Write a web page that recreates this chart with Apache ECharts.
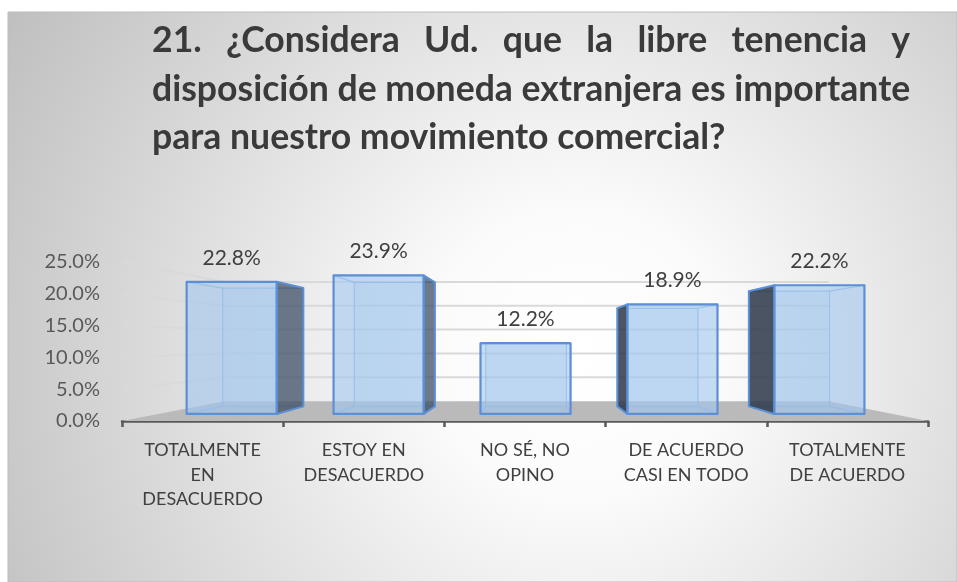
<!DOCTYPE html>
<html>
<head>
<meta charset="utf-8">
<script src="https://cdn.jsdelivr.net/npm/echarts@6/dist/echarts.min.js"></script>
<style>
  html, body { margin: 0; padding: 0; background: #ffffff; }
  #chart { width: 957px; height: 582px; }
</style>
</head>
<body>
<div id="chart"></div>
<script>
// ---- data ----
const categories = ['TOTALMENTE\nEN\nDESACUERDO', 'ESTOY EN\nDESACUERDO', 'NO SÉ, NO\nOPINO', 'DE ACUERDO\nCASI EN TODO', 'TOTALMENTE\nDE ACUERDO'];
const values = [0.228, 0.239, 0.122, 0.189, 0.222];
const gridTicks = [0.05, 0.10, 0.15, 0.20, 0.25];
const titleLine1 = ['21.', '¿Considera', 'Ud.', 'que', 'la', 'libre', 'tenencia', 'y'];
const titleLine2 = 'disposición de moneda extranjera es importante';
const titleLine3 = 'para nuestro movimiento comercial?';

// ---- perspective / style constants ----
const K_FRONT = 0.9115, K_BACK = 0.816, K_WALL = 0.75, BAR_RATIO = 0.613;
const FONT = 'Lato, "Open Sans", sans-serif';

const chart = echarts.init(document.getElementById('chart'));

function vanish(params, api) {
  const cs = params.coordSys;
  return [cs.x + cs.width * 0.5 + 6, api.coord([0, 0.125])[1]];
}
function proj(V, x, y, k) { return [V[0] + k * (x - V[0]), V[1] + k * (y - V[1])]; }

function renderFloor(params, api) {
  const cs = params.coordSys, V = vanish(params, api);
  const y0 = api.coord([0, 0])[1];
  const l = cs.x, r = cs.x + cs.width;
  return { type: 'polygon', shape: { points: [[l, y0], [r, y0], proj(V, r, y0, K_WALL), proj(V, l, y0, K_WALL)] },
           style: { fill: '#bababa' } };
}
function renderGrid(params, api) {
  const cs = params.coordSys, V = vanish(params, api);
  const y = api.coord([0, api.value(1)])[1];
  const l = cs.x, r = cs.x + cs.width;
  return { type: 'polyline', shape: { points: [[l, y], proj(V, l, y, K_WALL), proj(V, r, y, K_WALL)] },
           style: { stroke: '#d9d9d9', lineWidth: 2, fill: null } };
}
function renderBar(params, api) {
  const V = vanish(params, api);
  const i = api.value(0), v = api.value(1);
  const top = api.coord([i, v]), base = api.coord([i, 0]);
  const hw = api.size([1, 0])[0] * BAR_RATIO / 2;
  const L = top[0] - hw, R = top[0] + hw, T = top[1], B = base[1];
  const f = { lt: proj(V, L, T, K_FRONT), rt: proj(V, R, T, K_FRONT), rb: proj(V, R, B, K_FRONT), lb: proj(V, L, B, K_FRONT) };
  const b = { lt: proj(V, L, T, K_BACK), rt: proj(V, R, T, K_BACK), rb: proj(V, R, B, K_BACK), lb: proj(V, L, B, K_BACK) };
  const children = [];
  const inner = { stroke: 'rgba(120,170,225,0.75)', lineWidth: 1.2, fill: null };
  children.push({ type: 'polygon', shape: { points: [b.lt, b.rt, b.rb, b.lb] }, style: { fill: 'rgba(170,205,240,0.25)', stroke: inner.stroke, lineWidth: 1.2 } });
  ['lt', 'rt', 'rb', 'lb'].forEach(c => children.push({ type: 'line', shape: { x1: f[c][0], y1: f[c][1], x2: b[c][0], y2: b[c][1] }, style: inner }));
  if (R < V[0]) {
    children.push({ type: 'polygon', shape: { points: [f.rt, b.rt, b.rb, f.rb] }, style: { fill: 'rgba(45,60,82,0.65)', stroke: '#5b8fd6', lineWidth: 2, lineJoin: 'round' } });
  } else if (L > V[0]) {
    children.push({ type: 'polygon', shape: { points: [f.lt, b.lt, b.lb, f.lb] }, style: { fill: 'rgba(40,50,66,0.82)', stroke: '#5b8fd6', lineWidth: 2, lineJoin: 'round' } });
  }
  if (T > V[1] + 0.5) {
    children.push({ type: 'polygon', shape: { points: [f.lt, f.rt, b.rt, b.lt] }, style: { fill: 'rgba(170,205,240,0.6)', stroke: '#5b8fd6', lineWidth: 2 } });
  }
  children.push({ type: 'polygon', shape: { points: [f.lt, f.rt, f.rb, f.lb] }, style: { fill: 'rgba(160,198,238,0.6)', stroke: '#5b8fd6', lineWidth: 2.2, lineJoin: 'round' } });
  children.push({ type: 'text', style: { text: (v * 100).toFixed(1) + '%', x: (f.lt[0] + f.rt[0]) / 2, y: f.lt[1] - 24,
    align: 'center', verticalAlign: 'middle', fill: '#404040', fontSize: 21, fontFamily: FONT } });
  return { type: 'group', children };
}

// ---- title (justified first line) ----
const ctx = document.createElement('canvas').getContext('2d');
function measure(text, size) { ctx.font = 'bold ' + size + 'px ' + FONT; return ctx.measureText(text).width; }
const TITLE_L = 152, TITLE_R = 910;
let tSize = 26 * (TITLE_R - TITLE_L) / measure(titleLine2, 26);
tSize = Math.round(tSize * 10) / 10;
const titleStyle = { fill: '#3a3a3a', fontSize: tSize, fontWeight: 'bold', fontFamily: FONT, verticalAlign: 'middle' };
const titleEls = [];
const wordW = titleLine1.map(w => measure(w, tSize));
const gap = ((TITLE_R - TITLE_L) - wordW.reduce((a, c) => a + c, 0)) / (titleLine1.length - 1);
let cx = TITLE_L;
titleLine1.forEach((w, k) => {
  titleEls.push({ type: 'text', x: cx, y: 41, style: Object.assign({ text: w, align: 'left' }, titleStyle) });
  cx += wordW[k] + gap;
});
titleEls.push({ type: 'text', x: TITLE_L, y: 89.5, style: Object.assign({ text: titleLine2, align: 'left' }, titleStyle) });
titleEls.push({ type: 'text', x: TITLE_L, y: 138, style: Object.assign({ text: titleLine3, align: 'left' }, titleStyle) });

const option = {
  animation: false,
  graphic: [
    { type: 'rect', z: -10, shape: { x: 8, y: 12, width: 949, height: 570 },
      style: { fill: new echarts.graphic.RadialGradient(0.6, 0.6, 1.15, [
        { offset: 0, color: '#ffffff' }, { offset: 0.22, color: '#fbfbfb' }, { offset: 1, color: '#c0c0c0' }]),
        stroke: '#bdbdbd', lineWidth: 1 } },
    ...titleEls.map(e => Object.assign({ z: 10 }, e))
  ],
  grid: { left: 122, right: 29, top: 262, bottom: 161, containLabel: false },
  xAxis: {
    type: 'category', data: categories,
    axisLine: { show: true, lineStyle: { color: '#595959', width: 2.5 } },
    axisTick: { show: true, length: 6, lineStyle: { color: '#595959', width: 2.5 } },
    axisLabel: { interval: 0, margin: 17, color: '#404040', fontSize: 18, lineHeight: 24.5, fontFamily: FONT },
    splitLine: { show: false }
  },
  yAxis: {
    type: 'value', min: 0, max: 0.25, interval: 0.05,
    axisLine: { show: false }, axisTick: { show: false }, splitLine: { show: false },
    axisLabel: { margin: 22, color: '#595959', fontSize: 20, fontFamily: FONT, formatter: v => (v * 100).toFixed(1) + '%' }
  },
  series: [
    { type: 'custom', renderItem: renderFloor, data: [[0, 0]], silent: true, z: 1 },
    { type: 'custom', renderItem: renderGrid, data: gridTicks.map(t => [0, t]), silent: true, z: 2 },
    { type: 'custom', renderItem: renderBar, data: values.map((v, i) => [i, v]), z: 3, clip: false }
  ]
};
chart.setOption(option);
</script>
</body>
</html>
